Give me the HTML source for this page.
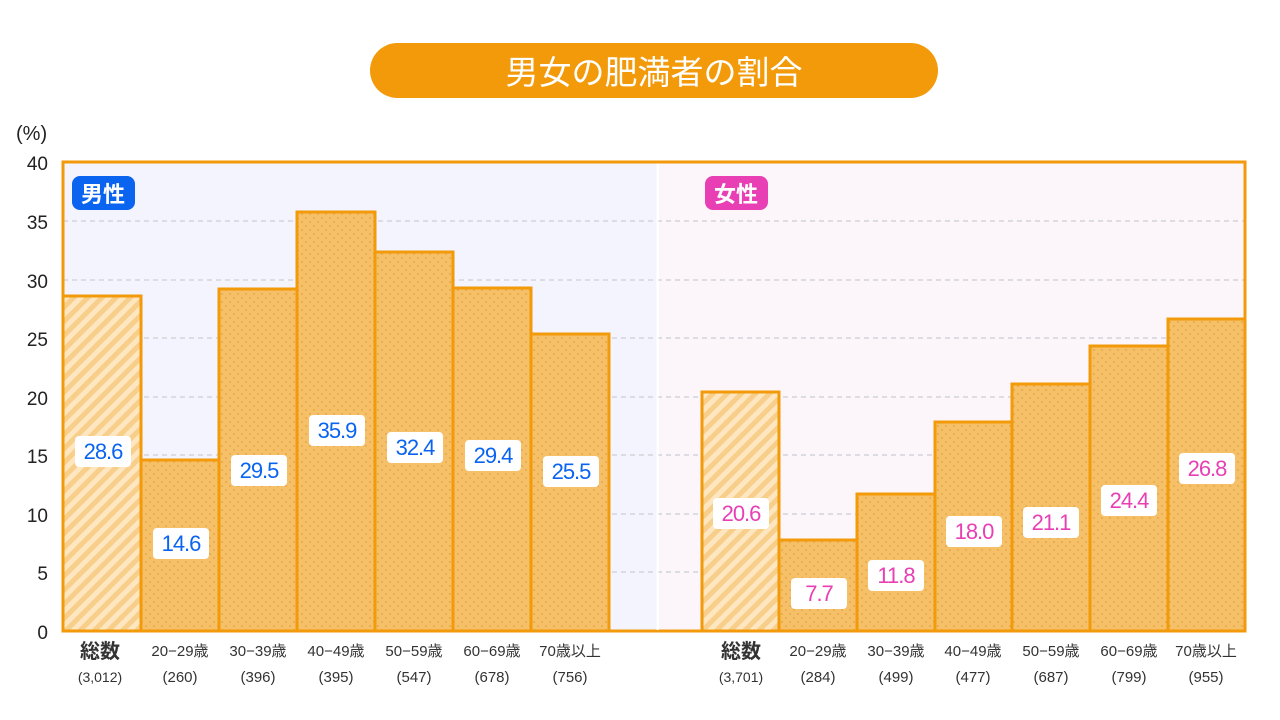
<!DOCTYPE html>
<html><head><meta charset="utf-8"><style>
body{margin:0;background:#fff;}
svg{display:block;font-family:"Liberation Sans","Noto Sans CJK JP",sans-serif;}
</style></head><body>
<svg width="1280" height="720" viewBox="0 0 1280 720" xmlns="http://www.w3.org/2000/svg">
<defs>
<pattern id="dots" width="8" height="8" patternUnits="userSpaceOnUse">
<rect width="8" height="8" fill="#f5c068"/><circle cx="2" cy="2" r="1" fill="#e6a84a"/><circle cx="6" cy="6" r="1" fill="#e6a84a"/>
</pattern>
<pattern id="hatch" width="10" height="10" patternUnits="userSpaceOnUse" patternTransform="rotate(45)">
<rect width="10" height="10" fill="#fde6c0"/><rect width="5" height="10" fill="#f8cf8a"/>
</pattern>
</defs>
<rect x="370" y="43" width="568" height="55" rx="27.5" fill="#f29a0a"/>
<text x="654" y="84" font-size="33" fill="#fff" text-anchor="middle">男女の肥満者の割合</text>
<text x="16" y="140" font-size="20" fill="#222">(%)</text>
<rect x="63" y="162" width="594" height="469" fill="#f3f4fd"/>
<rect x="659" y="162" width="586" height="469" fill="#fcf6fa"/>
<g stroke="#dcdce2" stroke-width="2" stroke-dasharray="5,4">
<line x1="63" y1="221" x2="1245" y2="221"/><line x1="63" y1="280" x2="1245" y2="280"/><line x1="63" y1="338" x2="1245" y2="338"/><line x1="63" y1="397" x2="1245" y2="397"/><line x1="63" y1="455" x2="1245" y2="455"/><line x1="63" y1="514" x2="1245" y2="514"/><line x1="63" y1="572" x2="1245" y2="572"/>
</g>
<g font-size="19" fill="#222" text-anchor="end">
<text x="48" y="170">40</text><text x="48" y="229">35</text><text x="48" y="288">30</text><text x="48" y="346">25</text><text x="48" y="405">20</text><text x="48" y="463">15</text><text x="48" y="522">10</text><text x="48" y="580">5</text><text x="48" y="639">0</text>
</g>
<g stroke="#f29a0a" stroke-width="3">
<rect x="63" y="296" width="78" height="335" fill="url(#hatch)"/>
<rect x="141" y="460" width="78" height="171" fill="url(#dots)"/>
<rect x="219" y="289" width="78" height="342" fill="url(#dots)"/>
<rect x="297" y="212" width="78" height="419" fill="url(#dots)"/>
<rect x="375" y="252" width="78" height="379" fill="url(#dots)"/>
<rect x="453" y="288" width="78" height="343" fill="url(#dots)"/>
<rect x="531" y="334" width="78" height="297" fill="url(#dots)"/>
<rect x="702" y="392" width="77" height="239" fill="url(#hatch)"/>
<rect x="779" y="540" width="78" height="91" fill="url(#dots)"/>
<rect x="857" y="494" width="78" height="137" fill="url(#dots)"/>
<rect x="935" y="422" width="77" height="209" fill="url(#dots)"/>
<rect x="1012" y="384" width="78" height="247" fill="url(#dots)"/>
<rect x="1090" y="346" width="78" height="285" fill="url(#dots)"/>
<rect x="1168" y="319" width="77" height="312" fill="url(#dots)"/>
</g>
<rect x="63" y="162" width="1182" height="469" fill="none" stroke="#f29a0a" stroke-width="3"/>
<line x1="657.5" y1="164" x2="657.5" y2="630" stroke="#fff" stroke-width="2"/>
<rect x="72" y="176" width="63" height="34" rx="8" fill="#0a64f0"/>
<text x="103" y="202" font-size="22" font-weight="bold" fill="#fff" text-anchor="middle">男性</text>
<rect x="705" y="176" width="63" height="34" rx="8" fill="#e83fb4"/>
<text x="736" y="202" font-size="22" font-weight="bold" fill="#fff" text-anchor="middle">女性</text>
<g font-size="22" text-anchor="middle" letter-spacing="-1">
<g fill="#fff">
<rect x="75" y="436" width="56" height="31" rx="4"/><rect x="153" y="528" width="56" height="31" rx="4"/><rect x="231" y="455" width="56" height="31" rx="4"/><rect x="309" y="415" width="56" height="31" rx="4"/><rect x="387" y="432" width="56" height="31" rx="4"/><rect x="465" y="440" width="56" height="31" rx="4"/><rect x="543" y="456" width="56" height="31" rx="4"/>
<rect x="713" y="498" width="56" height="31" rx="4"/><rect x="791" y="578" width="56" height="31" rx="4"/><rect x="868" y="560" width="56" height="31" rx="4"/><rect x="946" y="516" width="56" height="31" rx="4"/><rect x="1023" y="507" width="56" height="31" rx="4"/><rect x="1101" y="485" width="56" height="31" rx="4"/><rect x="1179" y="453" width="56" height="31" rx="4"/>
</g>
<g fill="#0a64f0">
<text x="103" y="459">28.6</text><text x="181" y="551">14.6</text><text x="259" y="478">29.5</text><text x="337" y="438">35.9</text><text x="415" y="455">32.4</text><text x="493" y="463">29.4</text><text x="571" y="479">25.5</text>
</g>
<g fill="#e83fb4">
<text x="741" y="521">20.6</text><text x="819" y="601">7.7</text><text x="896" y="583">11.8</text><text x="974" y="539">18.0</text><text x="1051" y="530">21.1</text><text x="1129" y="508">24.4</text><text x="1207" y="476">26.8</text>
</g>
</g>
<g font-size="15" fill="#333" text-anchor="middle">
<text x="100" y="658" font-size="20" font-weight="bold">総数</text><text x="100" y="682" font-size="14">(3,012)</text>
<text x="180" y="656">20−29歳</text><text x="180" y="682">(260)</text>
<text x="258" y="656">30−39歳</text><text x="258" y="682">(396)</text>
<text x="336" y="656">40−49歳</text><text x="336" y="682">(395)</text>
<text x="414" y="656">50−59歳</text><text x="414" y="682">(547)</text>
<text x="492" y="656">60−69歳</text><text x="492" y="682">(678)</text>
<text x="570" y="656">70歳以上</text><text x="570" y="682">(756)</text>
<text x="741" y="658" font-size="20" font-weight="bold">総数</text><text x="741" y="682" font-size="14">(3,701)</text>
<text x="818" y="656">20−29歳</text><text x="818" y="682">(284)</text>
<text x="896" y="656">30−39歳</text><text x="896" y="682">(499)</text>
<text x="973" y="656">40−49歳</text><text x="973" y="682">(477)</text>
<text x="1051" y="656">50−59歳</text><text x="1051" y="682">(687)</text>
<text x="1129" y="656">60−69歳</text><text x="1129" y="682">(799)</text>
<text x="1206" y="656">70歳以上</text><text x="1206" y="682">(955)</text>
</g>
</svg>
</body></html>
